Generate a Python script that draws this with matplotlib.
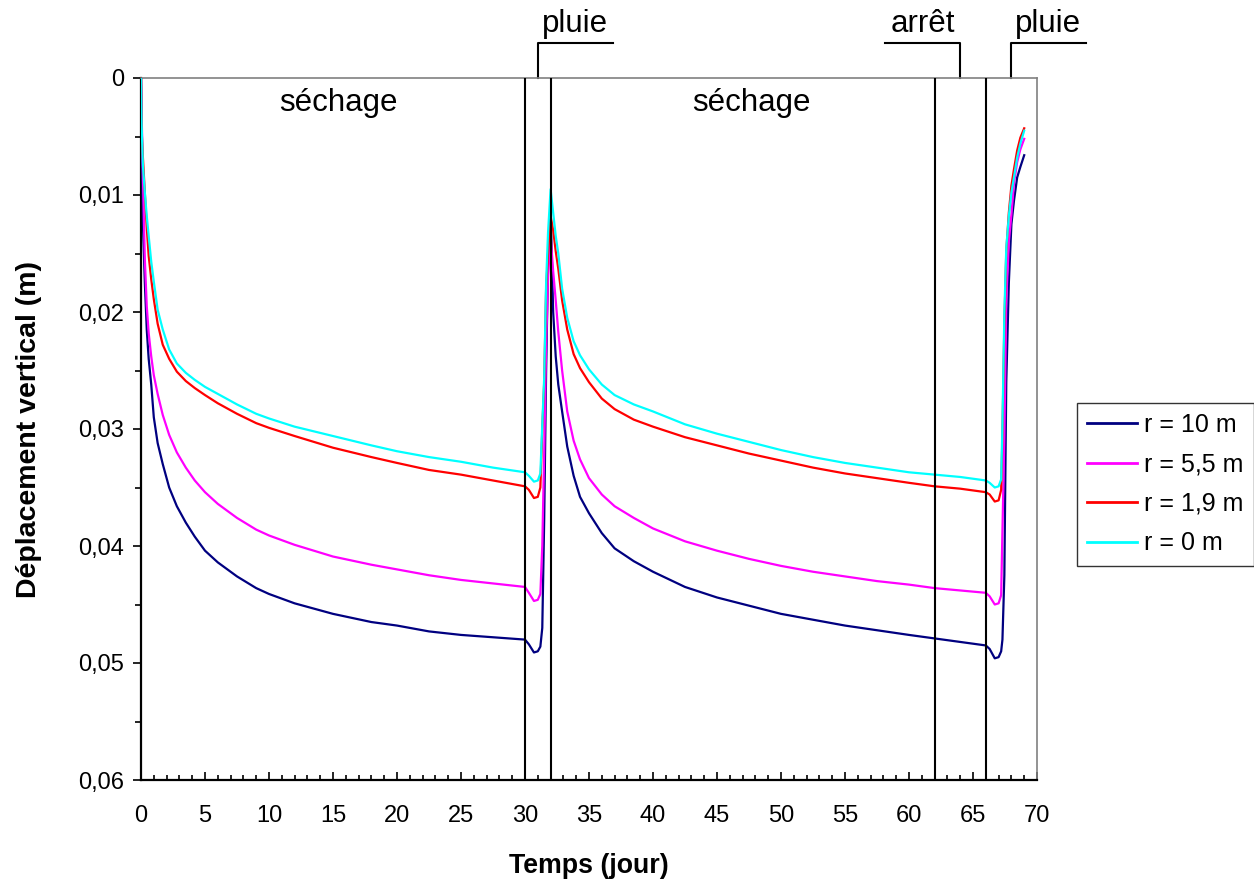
import matplotlib
matplotlib.use("Agg")
import matplotlib.pyplot as plt
from matplotlib.ticker import MultipleLocator, FuncFormatter
import matplotlib.transforms as mtransforms

plt.rcParams['font.family'] = ['Liberation Sans', 'DejaVu Sans']

# ---------------- data ----------------
temps = [0, 0.05, 0.15, 0.3, 0.45, 0.6, 0.8, 1.0, 1.3, 1.7, 2.2, 2.8, 3.5, 4.2, 5, 6, 7.5, 9, 10, 12,
         15, 18, 20, 22.5, 25, 27.5, 30,
         30.3, 30.7, 31.0, 31.2,
         31.35, 31.5, 31.65, 31.8, 32.0,
         32.2, 32.4, 32.6, 32.9, 33.3, 33.8, 34.3, 35, 36, 37, 38.5, 40, 42.5, 45, 47.5, 50, 52.5,
         55, 57.5, 60, 62, 64, 66,
         66.3, 66.7, 67.0, 67.2,
         67.3, 67.45, 67.6, 67.8, 68.0, 68.2, 68.45, 68.7, 69.0]

r_10 = [0, 0.005, 0.0125, 0.0175, 0.0215, 0.0240, 0.0262, 0.0290, 0.0312, 0.0330, 0.0350, 0.0366,
        0.0380, 0.0392, 0.0404, 0.0414, 0.0426, 0.0436, 0.0441, 0.0449, 0.0458, 0.0465, 0.0468,
        0.0473, 0.0476, 0.0478, 0.0480,
        0.0484, 0.0491, 0.0490, 0.0486,
        0.0470, 0.0377, 0.0250, 0.0160, 0.0112,
        0.0200, 0.0238, 0.0262, 0.0285, 0.0315, 0.0340, 0.0358, 0.0372, 0.0389, 0.0402, 0.0413,
        0.0422, 0.0435, 0.0444, 0.0451, 0.0458, 0.0463, 0.0468, 0.0472, 0.0476, 0.0479, 0.0482,
        0.0485,
        0.0488, 0.0496, 0.0495, 0.0490,
        0.0480, 0.0425, 0.0260, 0.0175, 0.0125, 0.0105, 0.0085, 0.0076, 0.0066]

r_5_5 = [0, 0.003, 0.0085, 0.0155, 0.0195, 0.0218, 0.0238, 0.0254, 0.0270, 0.0288, 0.0305, 0.0320,
         0.0333, 0.0344, 0.0354, 0.0364, 0.0376, 0.0386, 0.0391, 0.0399, 0.0409, 0.0416, 0.0420,
         0.0425, 0.0429, 0.0432, 0.0435,
         0.0440, 0.0447, 0.0446, 0.0441,
         0.0400, 0.0320, 0.0230, 0.0170, 0.0135,
         0.0165, 0.0190, 0.0217, 0.0250, 0.0285, 0.0310, 0.0326, 0.0342, 0.0356, 0.0366, 0.0376,
         0.0385, 0.0396, 0.0404, 0.0411, 0.0417, 0.0422, 0.0426, 0.0430, 0.0433, 0.0436, 0.0438,
         0.0440,
         0.0443, 0.0450, 0.0449, 0.0442,
         0.0387, 0.0307, 0.0190, 0.0140, 0.0117, 0.0090, 0.0072, 0.0061, 0.0052]

r_1_9 = [0, 0.0045, 0.0068, 0.0098, 0.0128, 0.0152, 0.0172, 0.0189, 0.0210, 0.0228, 0.0240, 0.0251,
         0.0259, 0.0265, 0.0271, 0.0278, 0.0287, 0.0295, 0.0299, 0.0306, 0.0316, 0.0324, 0.0329,
         0.0335, 0.0339, 0.0344, 0.0349,
         0.0352, 0.0359, 0.0358, 0.0350,
         0.0300, 0.0260, 0.0180, 0.0150, 0.0118,
         0.0130, 0.0148, 0.0163, 0.0190, 0.0215, 0.0236, 0.0248, 0.0260, 0.0274, 0.0283, 0.0292,
         0.0298, 0.0307, 0.0314, 0.0321, 0.0327, 0.0333, 0.0338, 0.0342, 0.0346, 0.0349, 0.0351,
         0.0354,
         0.0356, 0.0362, 0.0361, 0.0352,
         0.0304, 0.0210, 0.0148, 0.0115, 0.0092, 0.0078, 0.0062, 0.0051, 0.0043]

r_0 = [0, 0.004, 0.0075, 0.0098, 0.0118, 0.0135, 0.0157, 0.0174, 0.0198, 0.0215, 0.0232, 0.0244,
       0.0252, 0.0258, 0.0264, 0.0270, 0.0279, 0.0287, 0.0291, 0.0298, 0.0306, 0.0314, 0.0319,
       0.0324, 0.0328, 0.0333, 0.0337,
       0.0340, 0.0345, 0.0344, 0.0338,
       0.0296, 0.0256, 0.0175, 0.0132, 0.0095,
       0.0115, 0.0135, 0.0150, 0.0180, 0.0205, 0.0225, 0.0237, 0.0249, 0.0262, 0.0271, 0.0279,
       0.0285, 0.0296, 0.0304, 0.0311, 0.0318, 0.0324, 0.0329, 0.0333, 0.0337, 0.0339, 0.0341,
       0.0344,
       0.0346, 0.0350, 0.0349, 0.0343,
       0.0296, 0.0201, 0.0145, 0.0118, 0.0098, 0.0085, 0.0068, 0.0056, 0.0045]

series_labels = ["r = 10 m", "r = 5,5 m", "r = 1,9 m", "r = 0 m"]
series_colors = ["#000080", "#FF00FF", "#FF0000", "#00FFFF"]

event_lines = [30, 32, 62, 66]
phase_labels = ["séchage", "séchage"]
phase_x = [15.4, 47.7]
bracket_labels = ["pluie", "arrêt", "pluie"]
bracket_anchor = [31, 64, 68]
bracket_other = [36.85, 58.1, 73.8]

# ---------------- figure ----------------
W, H = 1254, 881
fig = plt.figure(figsize=(W / 100, H / 100), dpi=100)
ax = fig.add_axes([141 / W, 1 - 780 / H, (1037 - 141) / W, (780 - 78) / H])

for vals, lab, col in zip([r_10, r_5_5, r_1_9, r_0], series_labels, series_colors):
    ax.plot(temps, vals, color=col, lw=1.6, label=lab, zorder=3)

for xv in event_lines:
    ax.axvline(xv, color='black', lw=1.5, zorder=4)

ax.set_xlim(0, 70)
ax.set_ylim(0.06, 0)

ax.xaxis.set_major_locator(MultipleLocator(5))
ax.xaxis.set_minor_locator(MultipleLocator(1))
ax.yaxis.set_major_locator(MultipleLocator(0.01))
ax.yaxis.set_minor_locator(MultipleLocator(0.005))

def yfmt(v, pos):
    if abs(v) < 1e-12:
        return "0"
    return f"{v:.2f}".replace(".", ",")

ax.yaxis.set_major_formatter(FuncFormatter(yfmt))

ax.tick_params(axis='x', which='major', direction='in', length=6, width=1.2, pad=18, labelsize=17)
ax.tick_params(axis='x', which='minor', direction='in', length=3.5, width=1.2)
ax.tick_params(axis='y', which='major', direction='out', length=6, width=1.2, pad=6, labelsize=17)
ax.tick_params(axis='y', which='minor', direction='out', length=4, width=1.2)

for s in ['left', 'bottom']:
    ax.spines[s].set_color('black')
    ax.spines[s].set_linewidth(1.6)
for s in ['top', 'right']:
    ax.spines[s].set_color('#808080')
    ax.spines[s].set_linewidth(1.2)

ax.set_xlabel("Temps (jour)", fontsize=19.3, fontweight='bold', labelpad=19)
ax.set_ylabel("Déplacement vertical (m)", fontsize=20.5, fontweight='bold', labelpad=26)

for lab, xv in zip(phase_labels, phase_x):
    ax.text(xv, 0.00215, lab, fontsize=22.5, ha='center', va='center', zorder=5)

trans = mtransforms.blended_transform_factory(ax.transData, ax.transAxes)
y_bar = 1 + 35 / 702
y_txt = 1 + 54 / 702
for lab, xa, xo in zip(bracket_labels, bracket_anchor, bracket_other):
    ax.plot([xa, xa, xo], [1.0, y_bar, y_bar], color='black', lw=1.5,
            transform=trans, clip_on=False)
    ax.text((xa + xo) / 2, y_txt, lab, fontsize=22.5, ha='center', va='center',
            transform=trans, clip_on=False)

leg = ax.legend(loc='upper left', bbox_to_anchor=(1077 / W, 1 - 403 / H),
                bbox_transform=fig.transFigure, fontsize=18, frameon=True,
                fancybox=False, edgecolor='black', handlelength=2.0,
                handletextpad=0.3, labelspacing=0.62, borderpad=0.4,
                borderaxespad=0)
leg.get_frame().set_linewidth(1.0)
for line in leg.get_lines():
    line.set_linewidth(2.0)

fig.savefig("out.png", dpi=100)
